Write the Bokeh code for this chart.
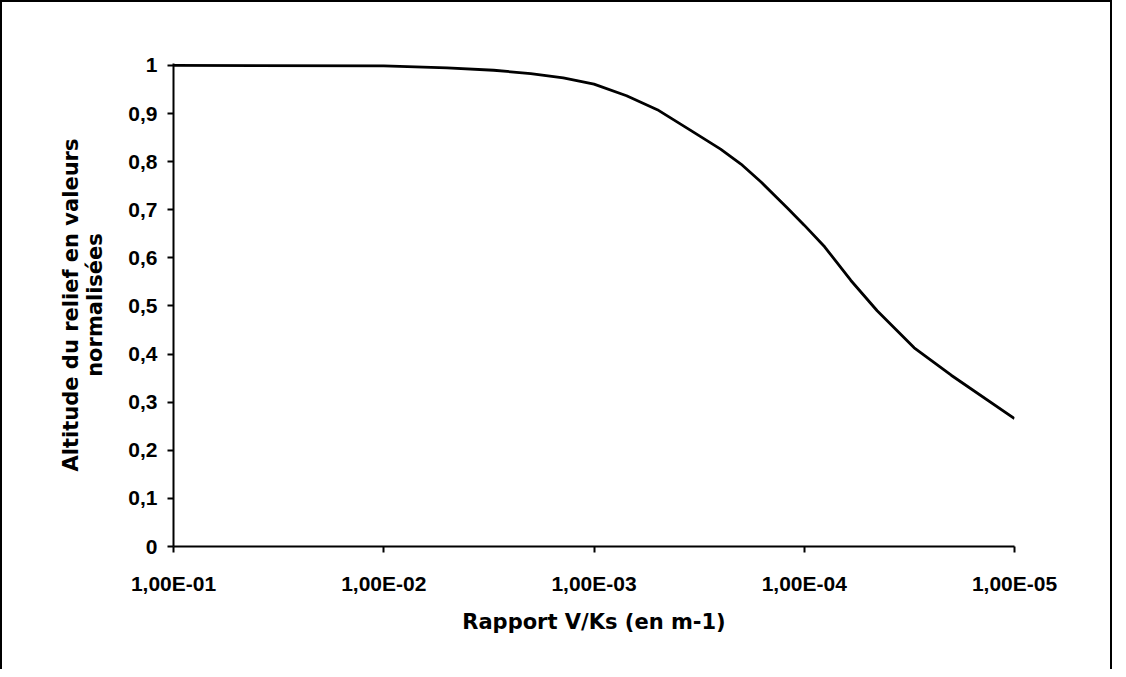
from bokeh.plotting import figure
from bokeh.models import Range1d, FixedTicker, CustomJSTickFormatter
from bokeh.embed import file_html
from bokeh.resources import INLINE

# ---- data ----
ratio = [1e-1, 1e-2, 5e-3, 3e-3, 2e-3, 1.4e-3, 1e-3, 7e-4, 5e-4, 3.5e-4,
         2.5e-4, 2e-4, 1.6e-4, 1.2e-4, 1e-4, 8e-5, 6e-5, 4.5e-5, 3e-5, 2e-5, 1e-5]
altitude = [1.000, 0.999, 0.995, 0.990, 0.983, 0.974, 0.961, 0.937, 0.908, 0.866,
            0.826, 0.795, 0.757, 0.703, 0.668, 0.623, 0.553, 0.490, 0.413, 0.356, 0.266]

x_ticks = [1e-1, 1e-2, 1e-3, 1e-4, 1e-5]
x_tick_labels = ["1,00E-01", "1,00E-02", "1,00E-03", "1,00E-04", "1,00E-05"]
y_ticks = [0, 0.1, 0.2, 0.3, 0.4, 0.5, 0.6, 0.7, 0.8, 0.9, 1]
y_tick_labels = ["0", "0,1", "0,2", "0,3", "0,4", "0,5", "0,6", "0,7", "0,8", "0,9", "1"]

x_title = "Rapport V/Ks (en m-1)"
y_title = "Altitude du relief en valeurs\nnormalisées"

TICK_FONT = "Liberation Sans"
TITLE_FONT = "DejaVu Sans"

p = figure(width=1112, height=669, x_axis_type="log",
           x_range=Range1d(1e-1, 1e-5), y_range=Range1d(0, 1.004),
           output_backend="svg", toolbar_location=None,
           min_border_left=171, min_border_right=100,
           min_border_top=61, min_border_bottom=125)

p.styles = {"border-left": "2px solid black", "border-top": "2px solid black",
            "border-right": "2px solid black", "margin-bottom": "-20px"}

p.line(ratio, altitude, line_color="black", line_width=2.8)

p.outline_line_color = None
p.grid.visible = False
p.background_fill_color = "white"
p.border_fill_color = "white"

xa = p.xaxis[0]
xa.ticker = FixedTicker(ticks=x_ticks, minor_ticks=[])
xa.formatter = CustomJSTickFormatter(args=dict(t=x_ticks, l=x_tick_labels), code="""
for (let i = 0; i < t.length; i++) {
  if (Math.abs(Math.log10(t[i]) - Math.log10(tick)) < 1e-6) return l[i];
}
return "";
""")
ya = p.yaxis[0]
ya.ticker = FixedTicker(ticks=y_ticks, minor_ticks=[])
ya.formatter = CustomJSTickFormatter(args=dict(t=y_ticks, l=y_tick_labels), code="""
for (let i = 0; i < t.length; i++) {
  if (Math.abs(t[i] - tick) < 1e-9) return l[i];
}
return "";
""")

for ax in (xa, ya):
    ax.axis_line_color = "black"
    ax.axis_line_width = 2
    ax.major_tick_line_color = "black"
    ax.major_tick_line_width = 2
    ax.major_tick_in = 0
    ax.major_tick_out = 6
    ax.minor_tick_line_color = None
    ax.major_label_text_font = TICK_FONT
    ax.major_label_text_font_style = "bold"
    ax.major_label_text_font_size = "21px"
    ax.major_label_text_color = "black"
    ax.axis_label_text_font = TITLE_FONT
    ax.axis_label_text_font_style = "bold"
    ax.axis_label_text_font_size = "21px"
    ax.axis_label_text_color = "black"

xa.axis_label = x_title
xa.major_label_standoff = 19
xa.axis_label_standoff = 12
ya.axis_label = y_title
ya.major_label_standoff = 10
ya.axis_label_standoff = 18
ya.axis_label_text_line_height = 1.0

open("out.html", "w").write(file_html(p, INLINE))
